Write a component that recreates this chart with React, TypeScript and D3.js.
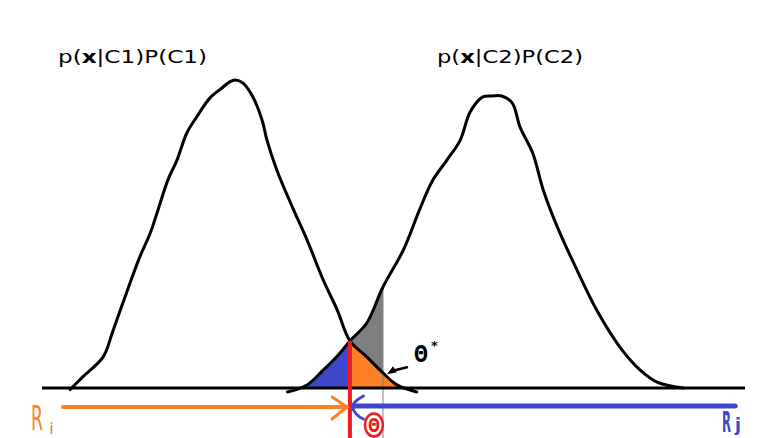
import * as d3 from 'd3';

// class-conditional densities (x in 0..100 along the axis, y in 0..100 height)
const c1X = [4.0, 5.8, 8.7, 10.0, 11.5, 13.9, 15.4, 16.5, 17.9, 19.2, 20.6, 22.0, 23.9, 25.6, 26.7, 27.5, 28.6, 30.0, 31.3, 32.0, 33.4, 35.6, 37.7, 40.0, 42.0, 43.8, 46.2, 48.5, 50.5, 53.3];
const c1Y = [-0.5, 3.6, 10.1, 17.9, 27.6, 42.5, 50.3, 57.8, 67.5, 74.0, 82.8, 88.0, 94.2, 97.4, 99.4, 100, 99.0, 94.5, 87.0, 80.5, 70.8, 58.8, 48.1, 35.1, 25.3, 15.3, 10.1, 4.9, 1.0, -1.3];
const c2X = [34.9, 37.7, 40.0, 42.4, 43.8, 46.2, 48.5, 51.4, 53.8, 55.6, 57.6, 59.5, 60.9, 62.7, 64.0, 65.4, 66.9, 68.0, 69.8, 71.3, 73.3, 76.1, 78.9, 82.2, 85.1, 87.5, 91.2];
const c2Y = [-1.3, 1.0, 5.8, 11.4, 15.3, 21.1, 32.8, 44.8, 58.4, 67.5, 74.0, 80.5, 89.6, 94.5, 94.8, 94.8, 92.5, 84.7, 76.3, 64.3, 52.3, 38.3, 25.3, 13.3, 5.8, 1.9, 0];

const theta = 43.8;      // chosen threshold (red)
const thetaStar = 48.5;  // optimal threshold (gray)
const regionIX = [3.0, 43.4];
const regionJX = [98.6, 44.3];

const W = 768;
const H = 438;

export default function App() {
  const x = d3.scaleLinear([0, 100], [42, 745]);
  const y = d3.scaleLinear([0, 100], [388, 80]);

  const pts1 = c1X.map((v, i) => [v, c1Y[i]] as [number, number]);
  const pts2 = c2X.map((v, i) => [v, c2Y[i]] as [number, number]);

  const line = d3.line<[number, number]>()
    .curve(d3.curveCatmullRom.alpha(0.5))
    .x(d => x(d[0]))
    .y(d => y(d[1]));

  const area = d3.area<[number, number]>()
    .curve(d3.curveCatmullRom.alpha(0.5))
    .x(d => x(d[0]))
    .y0(y(0))
    .y1(d => y(Math.max(0, d[1])));

  const base = y(0);
  const arrowY = base + 19;
  const tx = x(theta);
  const tsx = x(thetaStar);
  const crossY = y(c1Y[c1X.indexOf(theta)]);
  const grayTop = y(c2Y[c2X.indexOf(thetaStar)]);

  const iFrom = x(regionIX[0]);
  const iTo = x(regionIX[1]);
  const jFrom = x(regionJX[0]);
  const jTo = x(regionJX[1]);

  return (
    <svg width={W} height={H} viewBox={`0 0 ${W} ${H}`}
      style={{ position: 'absolute', left: 0, top: 0, background: '#fff' }}
      fontFamily="DejaVu Sans">
      <defs>
        <clipPath id="clipBlue"><rect x={0} y={0} width={tx} height={base} /></clipPath>
        <clipPath id="clipOrange"><rect x={tx} y={0} width={W - tx} height={base} /></clipPath>
        <clipPath id="clipGray"><rect x={tx} y={0} width={tsx - tx} height={base} /></clipPath>
      </defs>

      {/* error areas */}
      <path d={area(pts2) ?? ''} fill="#7f7f7f" clipPath="url(#clipGray)" />
      <path d={area(pts2) ?? ''} fill="#3f48cc" clipPath="url(#clipBlue)" />
      <path d={area(pts1) ?? ''} fill="#ff7f27" clipPath="url(#clipOrange)" />

      <line x1={tsx} x2={tsx} y1={grayTop} y2={H} stroke="#7f7f7f" strokeWidth={1} />

      {/* densities */}
      <path d={line(pts1) ?? ''} fill="none" stroke="#000" strokeWidth={3} strokeLinejoin="round" strokeLinecap="round" />
      <path d={line(pts2) ?? ''} fill="none" stroke="#000" strokeWidth={3} strokeLinejoin="round" strokeLinecap="round" />

      {/* axis */}
      <line x1={x(0)} x2={x(100)} y1={base} y2={base} stroke="#000" strokeWidth={3} />

      {/* threshold */}
      <line x1={tx} x2={tx} y1={crossY} y2={H} stroke="#ed1c24" strokeWidth={4} />

      {/* R_i arrow */}
      <line x1={iFrom} x2={iTo} y1={arrowY} y2={arrowY} stroke="#ff7f27" strokeWidth={4} strokeLinecap="round" />
      <path d={`M${iTo - 15},${arrowY - 10} L${iTo},${arrowY} L${iTo - 15},${arrowY + 12}`}
        fill="none" stroke="#ff7f27" strokeWidth={3} strokeLinecap="round" strokeLinejoin="round" />

      {/* R_j arrow */}
      <line x1={jFrom} x2={jTo} y1={arrowY - 1} y2={arrowY - 1} stroke="#3f48cc" strokeWidth={5} strokeLinecap="round" />
      <path d={`M${jTo + 10},${arrowY - 11} Q${jTo - 1},${arrowY - 5} ${jTo - 1},${arrowY} Q${jTo + 1},${arrowY + 8} ${jTo + 10},${arrowY + 12}`}
        fill="none" stroke="#3f48cc" strokeWidth={3} strokeLinecap="round" />

      {/* labels */}
      <text x={58} y={63} fontSize={17.5} textLength={149} lengthAdjust="spacingAndGlyphs">
        p(<tspan fontWeight="bold">x</tspan>|C1)P(C1)
      </text>
      <text x={437} y={63} fontSize={17.5} textLength={146} lengthAdjust="spacingAndGlyphs">
        p(<tspan fontWeight="bold">x</tspan>|C2)P(C2)
      </text>

      <ellipse cx={tx + 24} cy={425} rx={9} ry={11.5} fill="none" stroke="#ed1c24" strokeWidth={2.5} />
      <text x={tx + 24} y={432} fontSize={19} fontWeight="bold" fill="#ed1c24" textAnchor="middle" textLength={12} lengthAdjust="spacingAndGlyphs">Θ</text>

      <path d={`M${tsx + 4},${y(2.5) - 6} L${tsx + 10},${y(2.5) - 14} L${tsx + 14},${y(2.5) - 8} Z`} fill="#000" />
      <line x1={tsx + 12} x2={tsx + 24} y1={y(2.5) - 10} y2={y(2.5) - 13} stroke="#000" strokeWidth={2.5} strokeLinecap="round" />
      <text x={tsx + 31} y={362} fontSize={23} fontWeight="bold" textLength={14} lengthAdjust="spacingAndGlyphs">Θ</text>
      <text x={tsx + 48} y={350} fontSize={13} fontWeight="bold">*</text>

      <text x={31} y={430} fontSize={34} fill="#ff7f27" textLength={12} lengthAdjust="spacingAndGlyphs">R</text>
      <text x={49} y={434} fontSize={16} fill="#ff7f27" textLength={5} lengthAdjust="spacingAndGlyphs">i</text>

      <text x={722} y={432} fontSize={28} fontWeight="bold" fill="#3f48cc" textLength={9} lengthAdjust="spacingAndGlyphs">R</text>
      <text x={735} y={431} fontSize={17} fontWeight="bold" fill="#3f48cc" textLength={6} lengthAdjust="spacingAndGlyphs">j</text>
    </svg>
  );
}
